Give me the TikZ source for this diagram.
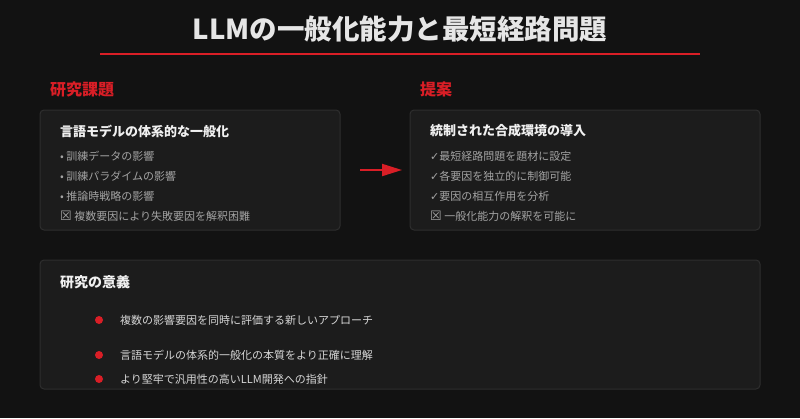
\documentclass[tikz,border=0pt]{standalone}
\usepackage{fontspec}
\setmainfont{Noto Sans CJK JP}
\newfontfamily\symfont{DejaVu Sans}
\usetikzlibrary{arrows.meta}
\definecolor{bgdark}{HTML}{121212}
\definecolor{boxfill}{HTML}{1C1C1C}
\definecolor{boxline}{HTML}{2E2E2E}
\definecolor{accent}{HTML}{D91E26}
\definecolor{titletext}{HTML}{E6E6E6}
\definecolor{itemgray}{HTML}{A3A3A3}
\definecolor{pointtext}{HTML}{D6D6D6}
\newcommand{\crossbox}{{\symfont\fontsize{13}{13}\selectfont ☒}}
\tikzset{
  panel/.style={fill=boxfill,draw=boxline,line width=1pt,rounded corners=4pt},
  seclabel/.style={anchor=west,inner sep=0pt,text=accent,font=\fontsize{16}{18}\selectfont\bfseries},
  boxhead/.style={anchor=west,inner sep=0pt,text=white!94!black,font=\fontsize{13}{15}\selectfont\bfseries},
  itemline/.style={anchor=west,inner sep=0pt,text=itemgray,font=\fontsize{11}{13}\selectfont},
  pointline/.style={anchor=west,inner sep=0pt,text=pointtext,font=\fontsize{11}{13}\selectfont},
  reddot/.style={circle,fill=accent,inner sep=0pt,minimum size=8pt}
}
\begin{document}
\begin{tikzpicture}[x=1pt,y=-1pt]
\fill[bgdark] (0,0) rectangle (800,418);
\useasboundingbox (0,0) rectangle (800,418);

\node[text=titletext,font=\fontsize{27.5}{30}\selectfont\bfseries,inner sep=0pt] (title) at (400,29) {LLMの一般化能力と最短経路問題};
\draw[accent,line width=2pt] (100,54) -- (700,54);

\node[seclabel] (probl) at (50,89) {研究課題};
\node[seclabel] (propl) at (420,89) {提案};

\draw[panel] (40,110) rectangle (340,230);
\draw[panel] (410,110) rectangle (760,230);
\draw[panel] (40,260) rectangle (760,389);
\coordinate (probbox) at (340,170);
\coordinate (propbox) at (410,170);

\node[boxhead] (probh) at (60,131) {言語モデルの体系的な一般化};
\node[itemline] (prob1) at (60,156) {• 訓練データの影響};
\node[itemline] (prob2) at (60,176) {• 訓練パラダイムの影響};
\node[itemline] (prob3) at (60,196) {• 推論時戦略の影響};
\node[itemline] (prob4) at (60,216) {\crossbox\ 複数要因により失敗要因を解釈困難};

\node[boxhead] (proph) at (430,131) {統制された合成環境の導入};
\node[itemline] (prop1) at (430,156) {{\symfont ✓}最短経路問題を題材に設定};
\node[itemline] (prop2) at (430,176) {{\symfont ✓}各要因を独立的に制御可能};
\node[itemline] (prop3) at (430,196) {{\symfont ✓}要因の相互作用を分析};
\node[itemline] (prop4) at (430,216) {\crossbox\ 一般化能力の解釈を可能に};

\draw[accent,line width=2pt,-{Triangle[length=20pt,width=12pt]},shorten <=20pt,shorten >=8pt] (probbox) -- (propbox);

\node[boxhead,font=\fontsize{14}{16}\selectfont\bfseries] (sigh) at (60,282) {研究の意義};
\node[reddot] (dot1) at (99,320) {};
\node[reddot] (dot2) at (99,355) {};
\node[reddot] (dot3) at (99,379) {};
\node[pointline] (sig1) at (120,320) {複数の影響要因を同時に評価する新しいアプローチ};
\node[pointline] (sig2) at (120,355) {言語モデルの体系的一般化の本質をより正確に理解};
\node[pointline] (sig3) at (120,379) {より堅牢で汎用性の高いLLM開発への指針};
\end{tikzpicture}
\end{document}
